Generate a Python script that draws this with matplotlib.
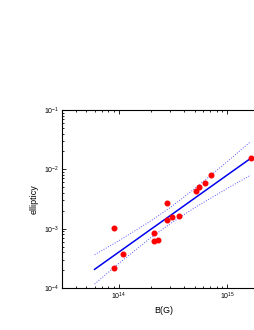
import numpy as np
import matplotlib
matplotlib.use("Agg")
import matplotlib.pyplot as plt
from matplotlib.ticker import LogLocator, NullFormatter

plt.rcParams['font.family'] = ['Liberation Sans', 'DejaVu Sans']

# measured points
B = [9.0e13, 9.0e13, 1.1e14, 2.11e14, 2.11e14, 2.30e14, 2.80e14, 2.80e14,
     3.11e14, 3.59e14, 5.15e14, 5.48e14, 6.23e14, 7.17e14, 1.67e15]
ell = [1.04e-3, 2.17e-4, 3.73e-4, 8.3e-4, 6.1e-4, 6.5e-4, 2.73e-3, 1.40e-3,
       1.57e-3, 1.61e-3, 4.26e-3, 4.97e-3, 5.81e-3, 8.1e-3, 1.57e-2]

# fit line and confidence band
fit_B = [6e13, 1e14, 2e14, 3e14, 5e14, 1e15, 1.65e15]
fit_ell = [2.07e-4, 4.02e-4, 9.9e-4, 1.67e-3, 3.25e-3, 8.0e-3, 1.53e-2]
band_up = [3.65e-4, 6.24e-4, 1.37e-3, 2.28e-3, 4.70e-3, 1.34e-2, 2.94e-2]
band_lo = [1.17e-4, 2.59e-4, 7.15e-4, 1.22e-3, 2.25e-3, 4.76e-3, 7.97e-3]

fig = plt.figure(figsize=(2.55, 3.3), dpi=100)
ax = fig.add_axes([0.243, 0.127, 0.796, 0.540])

ax.plot(fit_B, band_up, ':', color='#5555ff', lw=0.7)
ax.plot(fit_B, band_lo, ':', color='#5555ff', lw=0.7)
ax.plot(fit_B, fit_ell, '-', color='#0000ee', lw=1.1)
ax.plot(B, ell, 'o', color='red', ms=3.3, mec='red')

ax.set_xscale('log')
ax.set_yscale('log')
ax.set_xlim(3e13, 2.23e15)
ax.set_ylim(1e-4, 1e-1)

ax.xaxis.set_minor_locator(LogLocator(base=10, subs=np.arange(2, 10)))
ax.yaxis.set_minor_locator(LogLocator(base=10, subs=np.arange(2, 10)))
ax.xaxis.set_minor_formatter(NullFormatter())
ax.yaxis.set_minor_formatter(NullFormatter())
ax.tick_params(which='both', direction='in', top=True, right=False,
               labelsize=5, width=0.6, pad=2)
ax.tick_params(which='major', length=3)
ax.tick_params(which='minor', length=1.5)
for s in ax.spines.values():
    s.set_linewidth(0.8)
ax.spines['right'].set_visible(False)

ax.set_xlabel("B(G)", fontsize=6.5, labelpad=3)
ax.set_ylabel("ellipticy", fontsize=6.5, labelpad=4)

fig.savefig("out.png", dpi=100)
